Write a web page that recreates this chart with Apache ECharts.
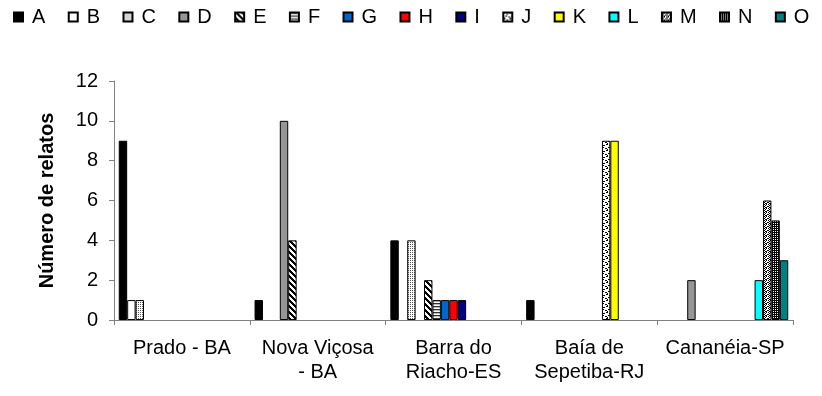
<!DOCTYPE html>
<html>
<head>
<meta charset="utf-8">
<script src="https://cdn.jsdelivr.net/npm/echarts@6/dist/echarts.min.js"></script>
<style>
  html, body { margin: 0; padding: 0; background: #fff; }
  #chart { width: 822px; height: 396px; }
</style>
</head>
<body>
<div id="chart"></div>
<script>
// Localities (categories)
const categories = ['Prado - BA', 'Nova Viçosa\n- BA', 'Barra do\nRiacho-ES', 'Baía de\nSepetiba-RJ', 'Cananéia-SP'];

// Number of reports per item, one value per locality
const A = [9, 1, 4, 1, 0];
const B = [1, 0, 0, 0, 0];
const C = [1, 0, 4, 0, 0];
const D = [0, 10, 0, 0, 2];
const E = [0, 4, 2, 0, 0];
const F = [0, 0, 1, 0, 0];
const G = [0, 0, 1, 0, 0];
const H = [0, 0, 1, 0, 0];
const I = [0, 0, 1, 0, 0];
const J = [0, 0, 0, 9, 0];
const K = [0, 0, 0, 9, 0];
const L = [0, 0, 0, 0, 2];
const M = [0, 0, 0, 0, 6];
const N = [0, 0, 0, 0, 5];
const O = [0, 0, 0, 0, 3];

const seriesNames = ['A', 'B', 'C', 'D', 'E', 'F', 'G', 'H', 'I', 'J', 'K', 'L', 'M', 'N', 'O'];
const seriesValues = [A, B, C, D, E, F, G, H, I, J, K, L, M, N, O];

const yTicks = [0, 2, 4, 6, 8, 10, 12];

// Small repeating fill patterns drawn on canvases
function pattern(w, h, draw) {
  const c = document.createElement('canvas');
  c.width = w; c.height = h;
  const ctx = c.getContext('2d');
  ctx.fillStyle = '#fff';
  ctx.fillRect(0, 0, w, h);
  draw(ctx, w, h);
  return { image: c, repeat: 'repeat' };
}
function pixels(ctx, color, list) {
  ctx.fillStyle = color;
  list.forEach(p => ctx.fillRect(p[0], p[1], 1, 1));
}

const fills = {
  A: '#000000',
  B: '#ffffff',
  C: pattern(2, 2, ctx => pixels(ctx, '#555', [[0, 0]])),
  D: '#969696',
  E: pattern(6, 6, (ctx, w, h) => {
    ctx.fillStyle = '#000';
    for (let y = 0; y < h; y++) for (let x = 0; x < w; x++) {
      if ((((x - y) % 6) + 6) % 6 < 3) ctx.fillRect(x, y, 1, 1);
    }
  }),
  F: pattern(2, 3, (ctx) => { ctx.fillStyle = '#333'; ctx.fillRect(0, 0, 2, 1); ctx.fillStyle = '#bbb'; ctx.fillRect(0, 1, 2, 1); }),
  G: '#0066cc',
  H: '#ff0000',
  I: '#000080',
  J: pattern(6, 6, ctx => pixels(ctx, '#000', [[0, 0], [1, 0], [3, 1], [4, 1], [2, 3], [3, 3], [5, 4], [0, 4], [1, 5]])),
  K: '#ffff00',
  L: '#00ffff',
  M: pattern(4, 4, ctx => pixels(ctx, '#000', [[0, 0], [2, 0], [1, 1], [3, 2], [0, 2], [2, 3], [1, 3]])),
  N: pattern(2, 2, ctx => { ctx.fillStyle = '#000'; ctx.fillRect(0, 0, 2, 2); pixels(ctx, '#fff', [[1, 1]]); }),
  O: '#008080'
};

const font = "'Liberation Sans', Arial, sans-serif";

const series = seriesNames.map((name, i) => ({
  name: name,
  type: 'bar',
  barGap: '0%',
  barCategoryGap: '7%',
  data: seriesValues[i].map(v => (v === 0 ? '-' : v)),
  itemStyle: {
    color: fills[name],
    borderColor: '#000',
    borderWidth: 1
  },
  emphasis: { disabled: true }
}));

const chart = echarts.init(document.getElementById('chart'), null, { renderer: 'canvas' });
chart.setOption({
  animation: false,
  backgroundColor: '#fff',
  textStyle: { fontFamily: font },
  legend: {
    data: seriesNames,
    left: 13,
    top: 7,
    width: 809,
    padding: 0,
    itemWidth: 9,
    itemHeight: 9,
    itemGap: 22.4,
    icon: 'rect',
    textStyle: { fontSize: 20, color: '#000', fontFamily: font, padding: [0, 0, 0, 4] }
  },
  grid: { left: 114, right: 29, top: 81, bottom: 76, containLabel: false },
  xAxis: {
    type: 'category',
    data: categories,
    boundaryGap: true,
    axisLine: { lineStyle: { color: '#808080', width: 1 } },
    axisTick: { show: true, interval: 0, length: 5, lineStyle: { color: '#808080' } },
    axisLabel: { interval: 0, color: '#000', fontSize: 20, fontFamily: font, lineHeight: 24, margin: 16 }
  },
  yAxis: {
    type: 'value',
    min: 0,
    max: 12,
    interval: 2,
    name: 'Número de relatos',
    nameLocation: 'middle',
    nameRotate: 90,
    nameGap: 57,
    nameTextStyle: { fontSize: 20, fontWeight: 'bold', color: '#000', fontFamily: font },
    axisLine: { show: true, lineStyle: { color: '#808080', width: 1 } },
    axisTick: { show: true, length: 5, lineStyle: { color: '#808080' } },
    splitLine: { show: false },
    axisLabel: {
      color: '#000', fontSize: 20, fontFamily: font, margin: 16,
      formatter: v => (yTicks.indexOf(v) >= 0 ? String(v) : '')
    }
  },
  series: series
});
</script>
</body>
</html>
